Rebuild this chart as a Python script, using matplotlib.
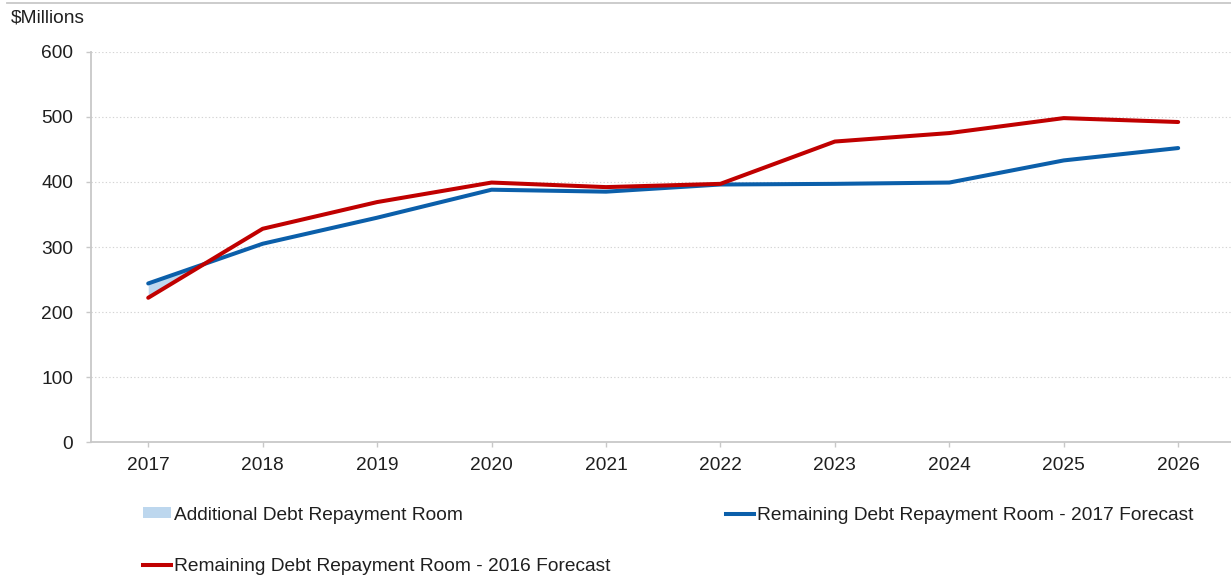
import matplotlib
matplotlib.use("Agg")
import matplotlib.pyplot as plt
from matplotlib.lines import Line2D
from matplotlib.patches import Patch
import numpy as np

years = [2017, 2018, 2019, 2020, 2021, 2022, 2023, 2024, 2025, 2026]
forecast_2017 = [244, 305, 345, 388, 385, 396, 397, 399, 433, 452]
forecast_2016 = [222, 328, 369, 399, 392, 397, 462, 475, 498, 492]
y_ticks = [0, 100, 200, 300, 400, 500, 600]

label_fill = "Additional Debt Repayment Room"
label_2017 = "Remaining Debt Repayment Room - 2017 Forecast"
label_2016 = "Remaining Debt Repayment Room - 2016 Forecast"

BLUE = "#0B5FAA"
RED = "#C00000"
FILL = "#BDD7EE"
TEXT = "#1F1F1F"
GRID = "#D4D4D4"
SPINE = "#C8C8C8"

plt.rcParams["font.family"] = ["Liberation Sans", "DejaVu Sans"]
FS = 13.8

fig = plt.figure(figsize=(12.31, 5.75), dpi=100)
W, H = 1231, 575
left_px, right_px = 91, 91 + 10 * 114.44
top_px, bot_px = 51.7, 442.3
ax = fig.add_axes([left_px / W, 1 - bot_px / H,
                   (right_px - left_px) / W, (bot_px - top_px) / H])

x = np.array(years, dtype=float)
b = np.array(forecast_2017, dtype=float)
r = np.array(forecast_2016, dtype=float)

ax.fill_between(x, r, b, where=b > r, interpolate=True, color=FILL,
                linewidth=0, zorder=2)
ax.plot(x, b, color=BLUE, lw=2.9, solid_capstyle="round", zorder=3)
ax.plot(x, r, color=RED, lw=2.9, solid_capstyle="round", zorder=4)

ax.set_xlim(2016.5, 2026.5)
ax.set_ylim(0, 600)
ax.set_xticks(years)
ax.set_xticklabels([str(y) for y in years])
ax.set_yticks(y_ticks)
ax.set_yticklabels([str(v) for v in y_ticks])

ax.grid(axis="y", linestyle=(0, (1.2, 2)), color=GRID, linewidth=0.8, zorder=0)
ax.set_axisbelow(True)
for side in ("top", "right"):
    ax.spines[side].set_visible(False)
for side in ("left", "bottom"):
    ax.spines[side].set_color(SPINE)
    ax.spines[side].set_linewidth(1.3)

ax.tick_params(axis="y", length=3.6, width=1.0, color=SPINE, pad=9.2,
               labelsize=FS, labelcolor=TEXT)
ax.tick_params(axis="x", length=3.6, width=1.0, color=SPINE, pad=7.0,
               labelsize=FS, labelcolor=TEXT)

fig.text(11 / W, 1 - 18 / H, "$Millions", fontsize=FS, color=TEXT,
         ha="left", va="center")

# top rule across the figure
fig.add_artist(Line2D([7 / W, 1.0], [1 - 2.7 / H, 1 - 2.7 / H],
                      color="#C8C8C8", lw=1.3, transform=fig.transFigure))

handles = [Patch(facecolor=FILL, edgecolor="none"),
           Line2D([], [], color=RED, lw=2.9),
           Line2D([], [], color=BLUE, lw=2.9)]
labels = [label_fill, label_2016, label_2017]
leg = fig.legend(handles, labels, loc="upper left",
                 bbox_to_anchor=(143 / W, 1 - 506.7 / H), ncol=2,
                 frameon=False, fontsize=FS, handlelength=1.45,
                 handleheight=0.5, handletextpad=0.15, borderpad=0,
                 borderaxespad=0, columnspacing=6.05, labelspacing=1.81,
                 labelcolor=TEXT)

fig.savefig("out.png", dpi=100)
